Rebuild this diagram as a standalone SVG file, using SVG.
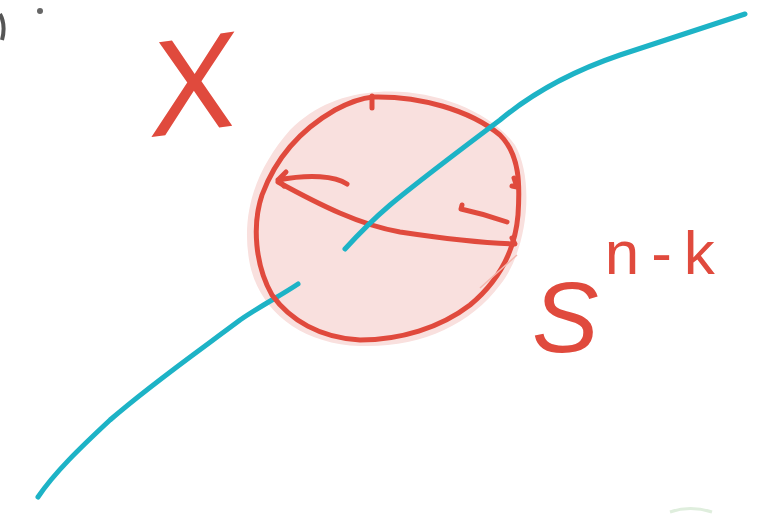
<svg xmlns="http://www.w3.org/2000/svg" width="759" height="514" viewBox="0 0 759 514">
<style>
.red{fill:none;stroke:#e04a3d;stroke-width:5;stroke-linecap:round;stroke-linejoin:round}
.cyan{fill:none;stroke:#1db3c6;stroke-width:5;stroke-linecap:round;stroke-linejoin:round}
.lbl{fill:#e04a3d;font-family:"Liberation Sans",Arial,sans-serif;font-style:italic}
</style>
<rect width="759" height="514" fill="#fff"/>
<path d="M0 14 Q6 25 2 40" fill="none" stroke="#555" stroke-width="4"/>
<circle cx="40" cy="11" r="3" fill="#666"/>
<path d="M378 92 C430 88 490 110 515 145 C535 180 528 250 500 285 C470 325 420 348 360 346 C300 344 260 310 250 265 C240 215 255 170 290 130 C315 105 345 94 378 92 Z" fill="#f9e0de"/>
<path class="cyan" d="M298 284 C280 296 262 305 240 320 C200 350 150 385 110 420 C80 448 55 472 38 497"/>
<path class="red" d="M373 97 C420 96 470 110 500 135 C520 155 520 185 518 215 C515 250 500 280 470 305 C440 328 400 340 360 340 C320 338 290 320 272 295 C255 265 252 225 262 195 C275 160 300 130 335 110 C350 102 362 98 373 97 Z"/>
<path class="red" d="M372 96 L372 108"/>
<path class="red" d="M514 178 L517 187 L512 186"/>
<path class="red" d="M278 182 C320 205 360 225 400 232 C440 238 480 243 515 244 L512 238"/>
<path class="red" d="M347 184 C335 176 310 174 278 180 M278 180 L286 172 M278 180 L284 186"/>
<path class="red" d="M507 222 C490 216 475 212 461 209 L462 205"/>
<path d="M480 288 L517 255" stroke="#f4b6ae" stroke-width="1.5" fill="none"/>
<path class="cyan" d="M745 14 C720 22 680 35 620 55 C570 72 530 95 500 120 C460 150 420 180 390 205 C370 222 355 238 345 249"/>
<text class="lbl" x="148" y="130" font-size="135" transform="rotate(-8 200 90)">X</text>
<text class="lbl" x="532" y="352" font-size="100">S<tspan dx="6" dy="-78" font-size="62" font-style="normal" letter-spacing="12">n-k</tspan></text>
<path d="M670 512 Q690 505 712 512" fill="none" stroke="#dfeedd" stroke-width="3"/>
</svg>
